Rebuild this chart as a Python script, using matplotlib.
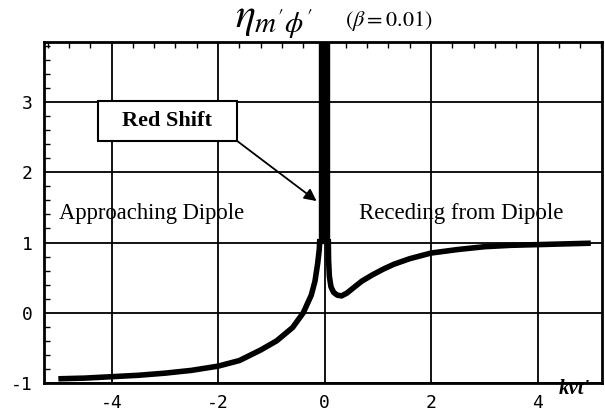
import numpy as np
import matplotlib.pyplot as plt
from matplotlib.ticker import MultipleLocator
from matplotlib.patches import Rectangle

plt.rcParams['mathtext.fontset'] = 'stix'
plt.rcParams['axes.unicode_minus'] = False

# eta on the approaching side (kvt' < 0), up to the left flank of the resonance
left_x = [-5.0, -4.5, -4.0, -3.5, -3.0, -2.5, -2.0, -1.6, -1.2, -0.9, -0.6, -0.4, -0.25, -0.18, -0.13, -0.1, -0.09]
left_y = [-0.94, -0.93, -0.91, -0.89, -0.86, -0.82, -0.76, -0.68, -0.53, -0.4, -0.21, 0.0, 0.25, 0.45, 0.7, 0.9, 1.05]

# eta on the receding side (kvt' > 0), from the right flank of the resonance
right_x = [0.07, 0.075, 0.09, 0.12, 0.17, 0.24, 0.32, 0.42, 0.55, 0.7, 0.9, 1.1, 1.3, 1.6, 2.0, 2.5, 3.0, 3.5, 4.0, 4.5, 5.0]
right_y = [1.05, 0.75, 0.52, 0.37, 0.29, 0.25, 0.24, 0.28, 0.36, 0.45, 0.54, 0.62, 0.69, 0.77, 0.85, 0.9, 0.94, 0.96, 0.97, 0.98, 0.99]

# rapid oscillation region around kvt' = 0, drawn as a solid band
band_x = (-0.1, 0.09)
band_y = (1.0, 3.9)

x_ticks = [-4, -2, 0, 2, 4]
y_ticks = [-1, 0, 1, 2, 3]

fig = plt.figure(figsize=(6.05, 4.18), dpi=100)
ax = fig.add_axes([0.0727, 0.0837, 0.9223, 0.8163])

ax.set_xlim(-5.27, 5.21)
ax.set_ylim(-1.0, 3.857)

ax.set_xticks(x_ticks)
ax.set_yticks(y_ticks)
ax.xaxis.set_minor_locator(MultipleLocator(0.4))
ax.yaxis.set_minor_locator(MultipleLocator(0.2))
ax.tick_params(which='both', direction='in', top=True, bottom=False, right=False)
ax.tick_params(which='major', length=0, pad=8)
ax.tick_params(which='minor', length=4, width=1)
ax.tick_params(axis='x', which='major', bottom=True, length=0)
for lab in ax.get_xticklabels() + ax.get_yticklabels():
    lab.set_family('DejaVu Sans Mono')
    lab.set_fontsize(13)

ax.grid(True, which='major', color='black', linewidth=1.3)
for s in ax.spines.values():
    s.set_linewidth(2)

ax.plot(left_x, left_y, color='black', linewidth=4, solid_capstyle='butt', zorder=3)
ax.plot(right_x, right_y, color='black', linewidth=4, solid_capstyle='butt', zorder=3)
ax.fill_betweenx(band_y, band_x[0], band_x[1], color='black', zorder=3)

ax.text(-3.25, 1.42, 'Approaching Dipole', family='Liberation Serif', fontsize=16.3,
        ha='center', va='center')
ax.text(2.57, 1.42, 'Receding from Dipole', family='Liberation Serif', fontsize=16.5,
        ha='center', va='center')

# label box with an arrow pointing at the resonance
box = Rectangle((-4.26, 2.45), 2.61, 0.57, facecolor='white', edgecolor='black',
                linewidth=1.5, zorder=5)
ax.add_patch(box)
ax.text(-2.955, 2.735, 'Red Shift', family='Liberation Serif', fontweight='bold',
        fontsize=16, ha='center', va='center', zorder=6)
ax.annotate('', xy=(-0.15, 1.59), xytext=(-1.65, 2.45),
            arrowprops=dict(arrowstyle='-|>', color='black', lw=1.3,
                            mutation_scale=18, shrinkA=0, shrinkB=0), zorder=4)

ax.text(4.69, -1.09, "kvt'", family='Liberation Serif', style='italic', fontweight='bold',
        fontsize=15, ha='center', va='center', clip_on=False)

fig.text(0.453, 0.952, r"$\eta_{m'\phi'}$", fontsize=30, ha='center', va='center')
fig.text(0.642, 0.950, r"$(\beta = 0.01)$", fontsize=16, ha='center', va='center')

fig.savefig('out.png', dpi=100)
